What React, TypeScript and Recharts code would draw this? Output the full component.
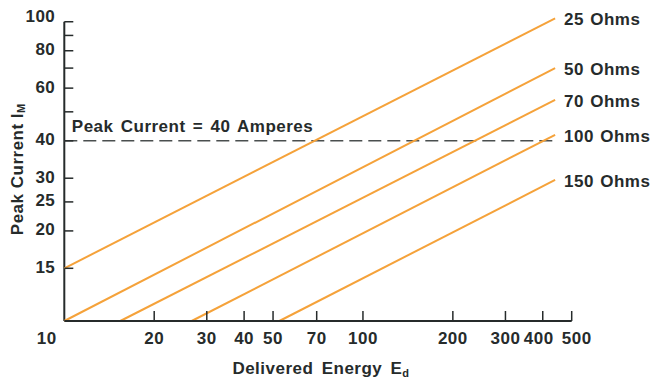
import React from "react"
import { LineChart, Line, XAxis, YAxis, ReferenceLine, LabelList } from "recharts"

// resistance of each curve (Ohms)
const ohms = [25, 50, 70, 100, 150]
// where each line starts (energy, current) and where it ends at the right edge
const startEnergy = [10, 10, 15.4, 26.7, 52.5]
const startCurrent = [15, 10, 10, 10, 10]
const endEnergy = [440, 440, 440, 440, 440]
const endCurrent = [102.6, 70, 54.8, 41.9, 29.6]

const xTicks = [10, 20, 30, 40, 50, 70, 100, 200, 300, 400, 500]
const yTicks = [15, 20, 25, 30, 40, 50, 60, 70, 80, 90, 100]
const yLabeled = [15, 20, 25, 30, 40, 60, 80, 100]

const peakCurrent = 40
const peakText = "Peak Current = 40 Amperes"

const series = ohms.map((r, i) => ({
    name: `${r} Ohms`,
    data: [
        { e: startEnergy[i], i: startCurrent[i] },
        { e: endEnergy[i], i: endCurrent[i] },
    ],
}))

const ink = "#262b2b"
const orange = "#f5a23a"
const font = "'Liberation Sans', Arial, Helvetica, sans-serif"

const textStyle = {
    fontFamily: font,
    fontWeight: 700,
    fontSize: 17,
    letterSpacing: 0.5,
    fill: ink,
}

function YTick(props: any) {
    const { x, y, payload } = props
    const v = payload.value
    return (
        <g>
            <line x1={x} x2={x + 9} y1={y} y2={y} stroke={ink} strokeWidth={1.5} />
            {yLabeled.includes(v) && (
                <text x={x - 9} y={y + 4.5 - (v === 100 ? 4 : 0)} textAnchor="end" style={textStyle}>
                    {v}
                </text>
            )}
        </g>
    )
}

function XTick(props: any) {
    const { x, y, payload } = props
    const v = payload.value
    let dx = 0
    if (v === 10) dx = -17.5
    if (v === 400) dx = -4
    if (v === 500) dx = 5
    return (
        <g>
            {v !== 10 && <line x1={x} x2={x} y1={y - 10} y2={y} stroke={ink} strokeWidth={1.5} />}
            <text x={x + dx} y={y + 23} textAnchor="middle" style={textStyle}>
                {v}
            </text>
        </g>
    )
}

function YTitle(props: any) {
    const { viewBox } = props
    const cx = 18
    const cy = viewBox.y + viewBox.height / 2 + 1
    return (
        <text x={cx} y={cy} transform={`rotate(-90 ${cx} ${cy})`} textAnchor="middle" dominantBaseline="central" style={textStyle}>
            Peak Current I
            <tspan fontSize={11} dy={3}>M</tspan>
        </text>
    )
}

function XTitle(props: any) {
    const { viewBox } = props
    const cx = viewBox.x + viewBox.width / 2 + 3
    return (
        <text x={cx} y={374} textAnchor="middle" style={{ ...textStyle, wordSpacing: 3 }}>
            Delivered Energy E
            <tspan fontSize={11} dy={3}>d</tspan>
        </text>
    )
}

function endLabel(name: string) {
    return (props: any) => {
        const { x, y, index } = props
        if (index !== 1) return null
        return (
            <text x={x + 9} y={y + 7} style={{ ...textStyle, wordSpacing: 1 }}>
                {name}
            </text>
        )
    }
}

function PeakLabel(props: any) {
    const { viewBox } = props
    return (
        <text x={viewBox.x + 7.5} y={viewBox.y - 8.5} style={{ ...textStyle, wordSpacing: 2 }}>
            {peakText}
        </text>
    )
}

export default function App() {
    return (
        <div style={{ position: "absolute", left: 0, top: 0, width: 651, height: 380, background: "#fff" }}>
            <LineChart width={651} height={380} margin={{ top: 15.4, right: 79.3, bottom: 29, left: 0 }}>
                <XAxis
                    type="number"
                    dataKey="e"
                    scale="log"
                    domain={[10, 500]}
                    ticks={xTicks}
                    interval={0}
                    height={30}
                    tickSize={0}
                    tickMargin={0}
                    tickLine={false}
                    axisLine={{ stroke: ink, strokeWidth: 2 }}
                    tick={<XTick />}
                    label={<XTitle />}
                />
                <YAxis
                    type="number"
                    dataKey="i"
                    scale="log"
                    domain={[10, 105]}
                    ticks={yTicks}
                    interval={0}
                    width={64.3}
                    tickSize={0}
                    tickMargin={0}
                    tickLine={false}
                    axisLine={false}
                    tick={<YTick />}
                    label={<YTitle />}
                />
                <ReferenceLine
                    segment={[{ x: 10, y: 10 }, { x: 10, y: 100 }]}
                    stroke={ink}
                    strokeWidth={2}
                />
                <ReferenceLine
                    segment={[{ x: 10, y: peakCurrent }, { x: 445, y: peakCurrent }]}
                    stroke="#4a4f4f"
                    strokeWidth={1.5}
                    strokeDasharray="13 6"
                    label={<PeakLabel />}
                />
                {series.map((s) => (
                    <Line
                        key={s.name}
                        data={s.data}
                        dataKey="i"
                        stroke={orange}
                        strokeWidth={2}
                        dot={false}
                        isAnimationActive={false}
                    >
                        <LabelList dataKey="i" content={endLabel(s.name)} />
                    </Line>
                ))}
            </LineChart>
        </div>
    )
}
